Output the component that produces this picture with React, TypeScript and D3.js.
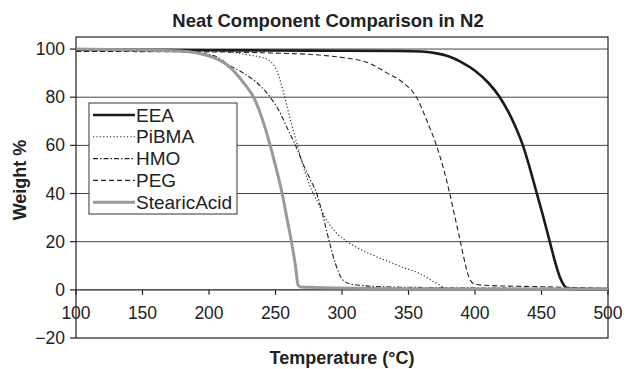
import React from "react";
import * as d3 from "d3";

const title = "Neat Component Comparison in N2";
const xLabel = "Temperature (°C)";
const yLabel = "Weight %";
const xTicks = [100, 150, 200, 250, 300, 350, 400, 450, 500];
const yTicks = [-20, 0, 20, 40, 60, 80, 100];
const gridValues = [20, 40, 60, 80, 100];

const eeaT = [100, 150, 200, 250, 300, 340, 360, 370, 380, 390, 400, 410, 418, 425, 431, 436, 441, 446, 451, 456, 460, 464, 467, 470, 480, 500];
const eeaW = [99.6, 99.6, 99.5, 99.4, 99.3, 99.2, 99, 98.3, 97, 94.5, 91, 86, 80.5, 74, 67, 60, 51, 41, 31, 20.5, 12, 5, 1.8, 0.5, 0.3, 0.3];

const pibmaT = [100, 150, 200, 220, 230, 240, 246, 251, 256, 261, 266, 271, 276, 282, 289, 296, 304, 315, 325, 334, 345, 359, 370, 379, 400, 500];
const pibmaW = [99.8, 99.6, 99.2, 98.5, 97.5, 96.5, 95, 91, 82, 71, 61, 51, 43, 36, 28.5, 23.5, 20, 16.5, 14, 12, 9.5, 6.6, 3, 0.7, 0.3, 0.2];

const hmoT = [100, 150, 190, 205, 216, 226, 236, 246, 253, 259, 265, 271, 276, 281, 286, 290, 295, 300, 306, 315, 330, 360, 400, 500];
const hmoW = [99.5, 99.3, 98.5, 97, 93, 90, 86, 80, 74, 67, 60, 52, 46, 40, 30, 21, 11, 4.5, 2.5, 1.8, 1.3, 1, 0.8, 0.5];

const pegT = [100, 200, 250, 283, 300, 321, 334, 346, 356, 364, 371, 376.5, 381, 385, 389, 393, 396, 400, 410, 450, 500];
const pegW = [99, 98.8, 98.3, 97.5, 96.5, 94, 90, 86, 80, 70, 60, 50, 40, 30, 20, 10, 4.5, 2.3, 1.8, 1.3, 0.6];

const stearicT = [100, 150, 178, 203, 216, 226, 234, 240, 245, 250, 255, 258.5, 262, 265, 267, 269, 280, 350, 500];
const stearicW = [100, 99.6, 99.2, 96.5, 92.3, 86, 79.5, 71, 62, 51.5, 40, 30, 20, 10, 2, 1.2, 1, 0.5, 0.3];

const seriesNames = ["EEA", "PiBMA", "HMO", "PEG", "StearicAcid"];
const seriesT = [eeaT, pibmaT, hmoT, pegT, stearicT];
const seriesW = [eeaW, pibmaW, hmoW, pegW, stearicW];

const styles = [
  { stroke: "#1a1a1a", width: 2.6, dash: "" },
  { stroke: "#222", width: 1.1, dash: "1.2,2.2" },
  { stroke: "#222", width: 1.1, dash: "5,2,1.5,2" },
  { stroke: "#222", width: 1.1, dash: "5,3" },
  { stroke: "#999", width: 3, dash: "" },
];

const W = 630;
const H = 369;
const left = 76;
const right = 608;
const top = 37;
const bottom = 338;
const font = "'Liberation Sans', Arial, Helvetica, sans-serif";

export default function App() {
  const x = d3.scaleLinear().domain([100, 500]).range([left, right]);
  const y = d3.scaleLinear().domain([-20, 105]).range([bottom, top]);
  const line = d3
    .line<[number, number]>()
    .x((d) => x(d[0]))
    .y((d) => y(d[1]))
    .curve(d3.curveMonotoneX);

  const legX = 89;
  const legY = 103;
  const legW = 148;
  const legH = 111;
  const rowH = 21.8;

  return (
    <svg
      width={W}
      height={H}
      style={{ position: "absolute", left: 0, top: 0, background: "#fff" }}
      fontFamily={font}
    >
      <rect x={0} y={0} width={W} height={H} fill="#fff" />
      {gridValues.map((v) => (
        <line key={v} x1={left} x2={right} y1={y(v)} y2={y(v)} stroke="#444" strokeWidth={1} />
      ))}
      <rect x={left} y={top} width={right - left} height={bottom - top} fill="none" stroke="#222" strokeWidth={1.2} />
      <line x1={left} x2={right} y1={y(0)} y2={y(0)} stroke="#222" strokeWidth={1.2} />
      {xTicks.map((t) => (
        <g key={t}>
          <line x1={x(t)} x2={x(t)} y1={y(0)} y2={y(0) + 5} stroke="#222" strokeWidth={1.2} />
          <text x={x(t)} y={y(0) + 23} textAnchor="middle" dominantBaseline="central" fontSize={17.5} fill="#222">
            {t}
          </text>
        </g>
      ))}
      {yTicks.map((t) => (
        <g key={t}>
          <line x1={left - 6} x2={left} y1={y(t)} y2={y(t)} stroke="#222" strokeWidth={1.2} />
          <text x={left - 11} y={y(t)} textAnchor="end" dominantBaseline="central" fontSize={17.5} fill="#222">
            {t < 0 ? "\u2212" + Math.abs(t) : t}
          </text>
        </g>
      ))}
      {seriesNames.map((n, i) => (
        <path
          key={n}
          d={line(seriesT[i].map((t, j) => [t, seriesW[i][j]] as [number, number])) || ""}
          fill="none"
          stroke={styles[i].stroke}
          strokeWidth={styles[i].width}
          strokeDasharray={styles[i].dash}
          strokeLinejoin="round"
        />
      ))}
      <rect x={legX} y={legY} width={legW} height={legH} fill="#fff" stroke="#333" strokeWidth={1} />
      {seriesNames.map((n, i) => {
        const cy = legY + 12 + i * rowH;
        return (
          <g key={n}>
            <line
              x1={legX + 4}
              x2={legX + 46}
              y1={cy}
              y2={cy}
              stroke={styles[i].stroke}
              strokeWidth={styles[i].width}
              strokeDasharray={styles[i].dash}
            />
            <text x={legX + 47} y={cy} dominantBaseline="central" fontSize={19} fill="#222">
              {n}
            </text>
          </g>
        );
      })}
      <text x={328} y={20} textAnchor="middle" dominantBaseline="central" fontSize={18.5} fontWeight="bold" fill="#222">
        {title}
      </text>
      <text x={342} y={358} textAnchor="middle" dominantBaseline="central" fontSize={18} fontWeight="bold" fill="#222">
        {xLabel}
      </text>
      <text
        transform={`translate(20,180) rotate(-90)`}
        textAnchor="middle"
        dominantBaseline="central"
        fontSize={18}
        fontWeight="bold"
        fill="#222"
      >
        {yLabel}
      </text>
    </svg>
  );
}
